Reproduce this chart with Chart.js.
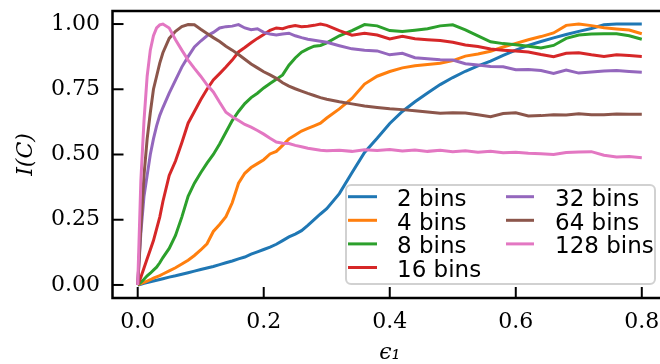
<!DOCTYPE html>
<html>
<head>
<meta charset="utf-8">
<script src="https://cdn.jsdelivr.net/npm/chart.js@4.4.0/dist/chart.umd.min.js"></script>
<style>
html, body { margin: 0; padding: 0; background: #fff; overflow: hidden; }
#wrap { width: 672px; height: 364px; }
</style>
</head>
<body>
<div id="wrap"><canvas id="canvas" width="672" height="364"></canvas></div>
<script>
// epsilon_1 sample points (finer near zero where the curves rise fast)
const eps = [0, 0.005, 0.01, 0.015, 0.02, 0.025, 0.03, 0.035, 0.04,
    0.05, 0.06, 0.07, 0.08, 0.09, 0.10, 0.11, 0.12, 0.13, 0.14, 0.15, 0.16, 0.17, 0.18, 0.19, 0.20,
    0.21, 0.22, 0.23, 0.24, 0.25, 0.26, 0.27, 0.28, 0.29, 0.30,
    0.32, 0.34, 0.36, 0.38, 0.40, 0.42, 0.44, 0.46, 0.48, 0.50, 0.52, 0.54, 0.56, 0.58, 0.60,
    0.62, 0.64, 0.66, 0.68, 0.70, 0.72, 0.74, 0.76, 0.78, 0.80];

const bins2 = [0, 0.003, 0.006, 0.009, 0.012, 0.015, 0.018, 0.021, 0.024,
    0.03, 0.035, 0.041, 0.047, 0.053, 0.059, 0.065, 0.071, 0.078, 0.085, 0.092, 0.1, 0.107, 0.118, 0.127, 0.136,
    0.145, 0.156, 0.17, 0.184, 0.195, 0.208, 0.228, 0.25, 0.272, 0.292,
    0.35, 0.43, 0.508, 0.562, 0.619, 0.665, 0.702, 0.736, 0.768, 0.795, 0.819, 0.84, 0.858, 0.88, 0.9,
    0.918, 0.933, 0.947, 0.96, 0.972, 0.983, 0.997, 1.0, 1.0, 1.0];

const bins4 = [0, 0.005, 0.01, 0.015, 0.02, 0.026, 0.031, 0.036, 0.042,
    0.054, 0.066, 0.08, 0.095, 0.113, 0.134, 0.158, 0.205, 0.232, 0.262, 0.315, 0.39, 0.428, 0.45, 0.465, 0.48,
    0.502, 0.512, 0.535, 0.56, 0.575, 0.59, 0.6, 0.61, 0.62, 0.64,
    0.675, 0.715, 0.77, 0.8, 0.818, 0.832, 0.84, 0.845, 0.85, 0.86, 0.877, 0.885, 0.896, 0.912, 0.926,
    0.94, 0.952, 0.966, 0.995, 1.0, 0.994, 0.986, 0.981, 0.977, 0.963];

const bins8 = [0, 0.01, 0.022, 0.035, 0.045, 0.057, 0.068, 0.085, 0.105,
    0.14, 0.19, 0.26, 0.34, 0.39, 0.43, 0.467, 0.5, 0.54, 0.585, 0.63, 0.665, 0.695, 0.718, 0.735, 0.755,
    0.772, 0.788, 0.805, 0.842, 0.87, 0.892, 0.905, 0.915, 0.918, 0.928,
    0.955, 0.975, 0.998, 0.993, 0.975, 0.971, 0.976, 0.982, 0.993, 0.997, 0.978, 0.955, 0.932, 0.925, 0.921,
    0.915, 0.908, 0.918, 0.945, 0.958, 0.962, 0.963, 0.963, 0.955, 0.942];

const bins16 = [0, 0.03, 0.065, 0.1, 0.135, 0.17, 0.215, 0.26, 0.32,
    0.42, 0.475, 0.545, 0.62, 0.665, 0.71, 0.75, 0.786, 0.81, 0.835, 0.862, 0.893, 0.91, 0.928, 0.945, 0.96,
    0.976, 0.985, 0.982, 0.99, 0.994, 0.99, 0.992, 0.995, 1.0, 0.995,
    0.975, 0.957, 0.965, 0.958, 0.943, 0.953, 0.944, 0.94, 0.937, 0.93, 0.92, 0.914, 0.904, 0.9, 0.897,
    0.893, 0.883, 0.875, 0.888, 0.89, 0.882, 0.876, 0.882, 0.879, 0.876];

const bins32 = [0, 0.2, 0.34, 0.42, 0.5, 0.56, 0.61, 0.65, 0.68,
    0.735, 0.785, 0.835, 0.875, 0.912, 0.935, 0.955, 0.968, 0.985, 0.99, 0.992, 0.998, 0.985, 0.978, 0.982, 0.968,
    0.962, 0.958, 0.962, 0.965, 0.955, 0.948, 0.942, 0.938, 0.934, 0.93,
    0.917, 0.905, 0.9, 0.897, 0.882, 0.888, 0.871, 0.867, 0.863, 0.862, 0.848, 0.843, 0.837, 0.836, 0.825,
    0.826, 0.822, 0.811, 0.824, 0.812, 0.816, 0.82, 0.822, 0.818, 0.815];

const bins64 = [0, 0.22, 0.42, 0.56, 0.66, 0.75, 0.8, 0.85, 0.89,
    0.945, 0.972, 0.99, 0.998, 0.997, 0.98, 0.964, 0.948, 0.933, 0.915, 0.9, 0.883, 0.865, 0.847, 0.832, 0.817,
    0.805, 0.792, 0.775, 0.762, 0.752, 0.743, 0.734, 0.726, 0.718, 0.712,
    0.702, 0.694, 0.686, 0.68, 0.675, 0.672, 0.668, 0.663, 0.658, 0.66, 0.659, 0.652, 0.645, 0.657, 0.66,
    0.648, 0.649, 0.652, 0.651, 0.656, 0.652, 0.652, 0.655, 0.654, 0.654];

const bins128 = [0, 0.4, 0.63, 0.8, 0.9, 0.955, 0.985, 0.997, 1.0,
    0.985, 0.94, 0.9, 0.862, 0.83, 0.8, 0.767, 0.74, 0.7, 0.662, 0.645, 0.63, 0.615, 0.605, 0.592, 0.578,
    0.562, 0.548, 0.543, 0.542, 0.535, 0.53, 0.524, 0.52, 0.516, 0.514,
    0.516, 0.512, 0.518, 0.515, 0.519, 0.513, 0.517, 0.512, 0.516, 0.511, 0.514, 0.509, 0.512, 0.507, 0.509,
    0.505, 0.503, 0.5, 0.508, 0.51, 0.511, 0.497, 0.49, 0.492, 0.488];

const seriesNames = ['2 bins', '4 bins', '8 bins', '16 bins', '32 bins', '64 bins', '128 bins'];
const seriesValues = [bins2, bins4, bins8, bins16, bins32, bins64, bins128];
const seriesColors = ['#1f77b4', '#ff7f0e', '#2ca02c', '#d62728', '#9467bd', '#8c564b', '#e377c2'];

const xTicks = [0.0, 0.2, 0.4, 0.6, 0.8];
const yTicks = [0.00, 0.25, 0.50, 0.75, 1.00];

const ctx = document.getElementById('canvas').getContext('2d');

const datasets = seriesValues.map((vals, i) => ({
    label: seriesNames[i],
    data: eps.map((x, j) => ({ x: x, y: vals[j] })),
    borderColor: seriesColors[i],
    backgroundColor: seriesColors[i],
    borderWidth: 3,
    pointRadius: 0,
    tension: 0,
    fill: false,
    order: seriesValues.length - i   // later series on top, like matplotlib
}));

const serif = 'DejaVu Serif';

const config = {
    type: 'line',
    data: { datasets: datasets },
    options: {
        responsive: false,
        animation: false,
        devicePixelRatio: 1,
        layout: { padding: { top: 11, right: 5, left: 0, bottom: 0 } },
        plugins: {
            legend: { display: false },
            tooltip: { enabled: false }
        },
        scales: {
            x: {
                type: 'linear',
                min: -0.04,
                max: 0.84,
                grid: { display: false, drawTicks: false },
                border: { display: false },
                afterBuildTicks: (scale) => {
                    scale.ticks = xTicks.map(v => ({ value: v }));
                },
                afterFit: (scale) => {
                    scale.height = 66;
                    scale.paddingLeft = 0;
                    scale.paddingRight = 0;
                },
                ticks: {
                    padding: 11,
                    color: '#000',
                    font: { family: serif, size: 22 },
                    callback: (v) => Number(v).toFixed(1)
                },
                title: {
                    display: true,
                    text: 'ϵ₁',
                    color: '#000',
                    font: { family: serif, size: 22, style: 'italic', lineHeight: 1 },
                    padding: 0
                }
            },
            y: {
                type: 'linear',
                min: -0.05,
                max: 1.05,
                grid: { display: false, drawTicks: false },
                border: { display: false },
                afterBuildTicks: (scale) => {
                    scale.ticks = yTicks.map(v => ({ value: v }));
                },
                afterFit: (scale) => {
                    scale.width = 112.5;
                    scale.paddingTop = 0;
                    scale.paddingBottom = 0;
                },
                ticks: {
                    padding: 12.5,
                    color: '#000',
                    font: { family: serif, size: 22 },
                    callback: (v) => Number(v).toFixed(2)
                },
                title: {
                    display: true,
                    text: 'I(C)',
                    color: '#000',
                    font: { family: serif, size: 22, style: 'italic', lineHeight: 1 },
                    padding: { top: 15, bottom: 0 }
                }
            }
        }
    },
    plugins: [
        {
            id: 'frame',
            afterDatasetsDraw: (chart) => {
                const c = chart.ctx;
                const a = chart.chartArea;
                const xs = chart.scales.x;
                const ys = chart.scales.y;

                c.save();
                c.strokeStyle = '#000';
                c.lineCap = 'butt';

                // inward ticks
                c.lineWidth = 2;
                xTicks.forEach(v => {
                    const px = xs.getPixelForValue(v);
                    c.beginPath();
                    c.moveTo(px, a.bottom);
                    c.lineTo(px, a.bottom - 11);
                    c.stroke();
                });
                yTicks.forEach(v => {
                    const py = ys.getPixelForValue(v);
                    c.beginPath();
                    c.moveTo(a.left, py);
                    c.lineTo(a.left + 11, py);
                    c.stroke();
                });

                // spines
                c.lineWidth = 2.5;
                c.strokeRect(a.left, a.top, a.right - a.left, a.bottom - a.top);
                c.restore();
            }
        },
        {
            id: 'binsLegend',
            afterDraw: (chart) => {
                const c = chart.ctx;
                const dsets = chart.data.datasets;

                c.save();
                c.beginPath();
                c.roundRect(346, 185, 309, 99, 5);
                c.fillStyle = 'rgba(255,255,255,0.8)';
                c.fill();
                c.lineWidth = 2;
                c.strokeStyle = 'rgba(204,204,204,0.9)';
                c.stroke();

                const cols = [
                    { hx: 348, hw: 29, tx: 397 },
                    { hx: 506, hw: 28, tx: 555 }
                ];
                const rowY0 = 196.7;
                const rowStep = 23.6;
                const perCol = 4;

                c.font = '23px "DejaVu Sans"';
                c.textAlign = 'left';
                c.textBaseline = 'alphabetic';
                dsets.forEach((d, i) => {
                    const col = cols[Math.floor(i / perCol)];
                    const y = rowY0 + (i % perCol) * rowStep;
                    c.strokeStyle = d.borderColor;
                    c.lineWidth = 3;
                    c.beginPath();
                    c.moveTo(col.hx, y);
                    c.lineTo(col.hx + col.hw, y);
                    c.stroke();
                    c.fillStyle = '#000';
                    c.fillText(d.label, col.tx, y + 9.5);
                });
                c.restore();
            }
        }
    ]
};

const chart = new Chart(ctx, config);
</script>
</body>
</html>
